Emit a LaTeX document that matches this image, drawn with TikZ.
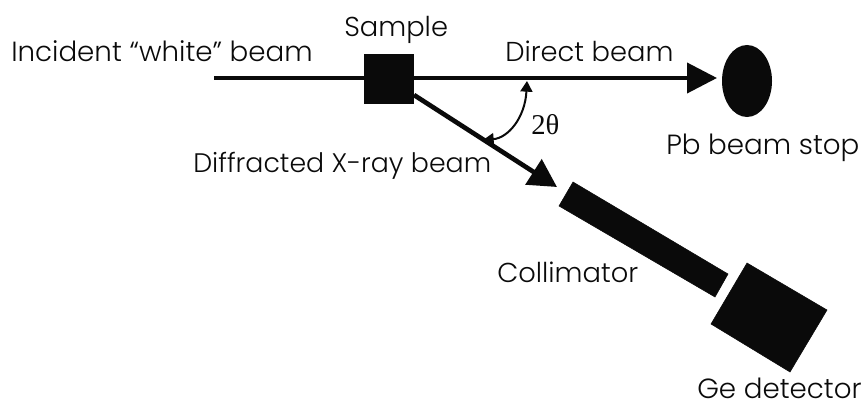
\documentclass[tikz,border=0pt]{standalone}
\usepackage{fontspec}
\setmainfont{Poppins Light}
\usetikzlibrary{arrows.meta,shapes.geometric}
\definecolor{ink}{gray}{0.04}
\newcommand{\lblsize}[1]{\fontsize{#1}{22}\selectfont}
\tikzset{
 lbl/.style={text=ink,inner sep=0pt,anchor=base west},
 blk/.style={fill=ink,draw=none},
 hbeam/.style={draw=ink,line width=3pt,-{Triangle[length=22.5pt,width=22.5pt]}},
 dbeam/.style={draw=ink,line width=3.5pt,-{Triangle[length=21pt,width=22pt]}},
 anglearc/.style={draw=ink,line width=1.5pt,{Triangle[length=8pt,width=9pt]}-{Triangle[length=8pt,width=9pt]}}
}
\begin{document}
\begin{tikzpicture}[x=0.75pt,y=-0.75pt]
\useasboundingbox (0,0) rectangle (867,410);
\coordinate (beamstart) at (214,78);
\coordinate (beamend) at (717,78);
\coordinate (diffstart) at (414,95);
\coordinate (difftip) at (557,187);
\coordinate (arctop) at (527,81);
\coordinate (arcbot) at (483,140);
\draw[hbeam] (beamstart) -- (beamend);
\draw[dbeam] (diffstart) -- (difftip);
\node[blk,minimum width=37.5pt,minimum height=37.5pt,inner sep=0pt] (sample) at (389,79) {};
\node[blk,ellipse,minimum width=37.5pt,minimum height=54pt,inner sep=0pt] (stop) at (747,81) {};
\draw[anglearc] (arcbot) .. controls (508,138) and (525,118) .. (arctop);
\filldraw[ink] (573,182) -- (728,274) -- (715,297) -- (559,206) -- cycle;
\filldraw[ink] (747,263) -- (827,310) -- (790,372) -- (711,324) -- cycle;
\node[lbl,font=\lblsize{20.8}] (incident) at (11,62) {Incident “white” beam};
\node[lbl,font=\lblsize{20.5}] (samplelbl) at (344,37) {Sample};
\node[lbl,font=\lblsize{20.5}] (direct) at (505,62) {Direct beam};
\node[lbl,font=\lblsize{20.8}] (stoplbl) at (666,154) {Pb beam stop};
\node[lbl,font=\lblsize{20.1}] (diffr) at (193,172) {Diffracted X-ray beam};
\node[lbl,font=\lblsize{21.5}] (two) at (531,134) {\fontspec{Liberation Serif}2θ};
\node[lbl,font=\lblsize{20.5}] (coll) at (497,282) {Collimator};
\node[lbl,font=\lblsize{20.8}] (ge) at (697,398) {Ge detector};
\end{tikzpicture}
\end{document}
